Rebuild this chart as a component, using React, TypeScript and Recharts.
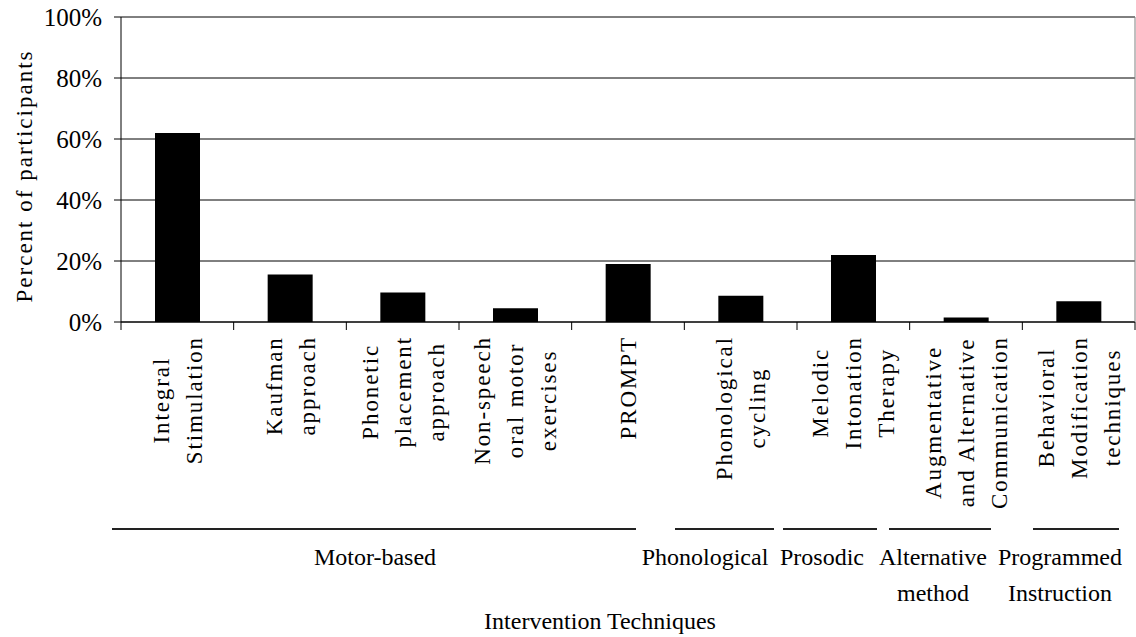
import React from "react";
import { Bar, BarChart, CartesianGrid, ReferenceLine, XAxis, YAxis } from "recharts";

const categories = [
  "Integral Stimulation",
  "Kaufman approach",
  "Phonetic placement approach",
  "Non-speech oral motor exercises",
  "PROMPT",
  "Phonological cycling",
  "Melodic Intonation Therapy",
  "Augmentative and Alternative Communication",
  "Behavioral Modification techniques",
];
const labelLines = [
  ["Integral", "Stimulation"],
  ["Kaufman", "approach"],
  ["Phonetic", "placement", "approach"],
  ["Non-speech", "oral motor", "exercises"],
  ["PROMPT"],
  ["Phonological", "cycling"],
  ["Melodic", "Intonation", "Therapy"],
  ["Augmentative", "and Alternative", "Communication"],
  ["Behavioral", "Modification", "techniques"],
];
const percents = [0.62, 0.156, 0.097, 0.045, 0.19, 0.086, 0.22, 0.015, 0.068];
const yTicks = [0, 0.2, 0.4, 0.6, 0.8, 1];

const groups = [
  { lines: ["Motor-based"], x1: 112, x2: 636, cx: 375 },
  { lines: ["Phonological"], x1: 675, x2: 774, cx: 705 },
  { lines: ["Prosodic"], x1: 783, x2: 877, cx: 822 },
  { lines: ["Alternative", "method"], x1: 889, x2: 991, cx: 933 },
  { lines: ["Programmed", "Instruction"], x1: 1033, x2: 1119, cx: 1060 },
];

const data = categories.map((name, i) => ({ name, value: percents[i] }));

const FONT = "Liberation Serif";
const W = 1136;
const H = 637;
const PLOT_LEFT = 121;
const PLOT_RIGHT = 1135;
const PLOT_BOTTOM = 322;
const BAND = (PLOT_RIGHT - PLOT_LEFT) / categories.length;
const LABEL_SIZE = 23;
const LABEL_SPACING = 1.9;
const LINE_GAP = 33;
const LABEL_TOP = 336;

let measureCtx: CanvasRenderingContext2D | null = null;
function textLength(s: string) {
  if (!measureCtx) {
    measureCtx = document.createElement("canvas").getContext("2d");
  }
  if (!measureCtx) return s.length * LABEL_SIZE * 0.45;
  measureCtx.font = `${LABEL_SIZE}px "Liberation Serif"`;
  return measureCtx.measureText(s).width + s.length * LABEL_SPACING;
}

function CategoryTick(props: any) {
  const { x, index } = props;
  const lines = labelLines[index] || [];
  const longest = Math.max(...lines.map(textLength));
  const cy = LABEL_TOP + longest / 2;
  const left = x - BAND / 2;
  return (
    <g>
      <line x1={left} x2={left} y1={PLOT_BOTTOM} y2={PLOT_BOTTOM + 8} stroke="#000" />
      {index === categories.length - 1 && (
        <line x1={left + BAND} x2={left + BAND} y1={PLOT_BOTTOM} y2={PLOT_BOTTOM + 8} stroke="#000" />
      )}
      {lines.map((line, i) => {
        const lx = x + (i - (lines.length - 1) / 2) * LINE_GAP;
        return (
          <text
            key={line}
            x={lx}
            y={cy}
            dy="0.35em"
            transform={`rotate(-90 ${lx} ${cy})`}
            textAnchor="middle"
            fontFamily={FONT}
            fontSize={LABEL_SIZE}
            letterSpacing={LABEL_SPACING}
            fill="#000"
          >
            {line}
          </text>
        );
      })}
    </g>
  );
}

export default function App() {
  return (
    <div style={{ position: "absolute", left: 0, top: 0, width: W, height: H, background: "#fff" }}>
      <BarChart width={W} height={H} data={data} margin={{ top: 17, right: 0, bottom: 115, left: 11 }}>
        <CartesianGrid yAxisId="l" vertical={false} stroke="#000" />
        <XAxis
          dataKey="name"
          interval={0}
          height={200}
          tickLine={false}
          axisLine={{ stroke: "#000" }}
          tick={<CategoryTick />}
        />
        <YAxis
          yAxisId="l"
          width={110}
          domain={[0, 1]}
          ticks={yTicks}
          tickFormatter={(v: number) => `${Math.round(v * 100)}%`}
          tickSize={7}
          tickMargin={12}
          axisLine={{ stroke: "#000" }}
          tickLine={{ stroke: "#000" }}
          tick={{ fontFamily: FONT, fontSize: 25, fill: "#000" }}
        />
        <YAxis
          yAxisId="r"
          orientation="right"
          width={1}
          domain={[0, 1]}
          tick={false}
          tickLine={false}
          axisLine={{ stroke: "#808080" }}
        />
        <ReferenceLine yAxisId="l" y={1} stroke="#808080" />
        <Bar yAxisId="l" dataKey="value" fill="#000" barSize={45} isAnimationActive={false} />
      </BarChart>
      <svg width={W} height={H} style={{ position: "absolute", left: 0, top: 0, pointerEvents: "none" }}>
        <text
          x={24}
          y={176}
          dy="0.35em"
          transform="rotate(-90 24 176)"
          textAnchor="middle"
          fontFamily={FONT}
          fontSize={23}
          letterSpacing={2}
          fill="#000"
        >
          Percent of participants
        </text>
        {groups.map((g) => (
          <g key={g.lines[0]}>
            <line x1={g.x1} x2={g.x2} y1={529} y2={529} stroke="#222" strokeWidth={2} />
            {g.lines.map((t, i) => (
              <text key={t} x={g.cx} y={557 + i * 36} dy="0.35em" textAnchor="middle" fontFamily={FONT} fontSize={24} fill="#000">
                {t}
              </text>
            ))}
          </g>
        ))}
        <text x={600} y={621} dy="0.35em" textAnchor="middle" fontFamily={FONT} fontSize={24} fill="#000">
          Intervention Techniques
        </text>
      </svg>
    </div>
  );
}
